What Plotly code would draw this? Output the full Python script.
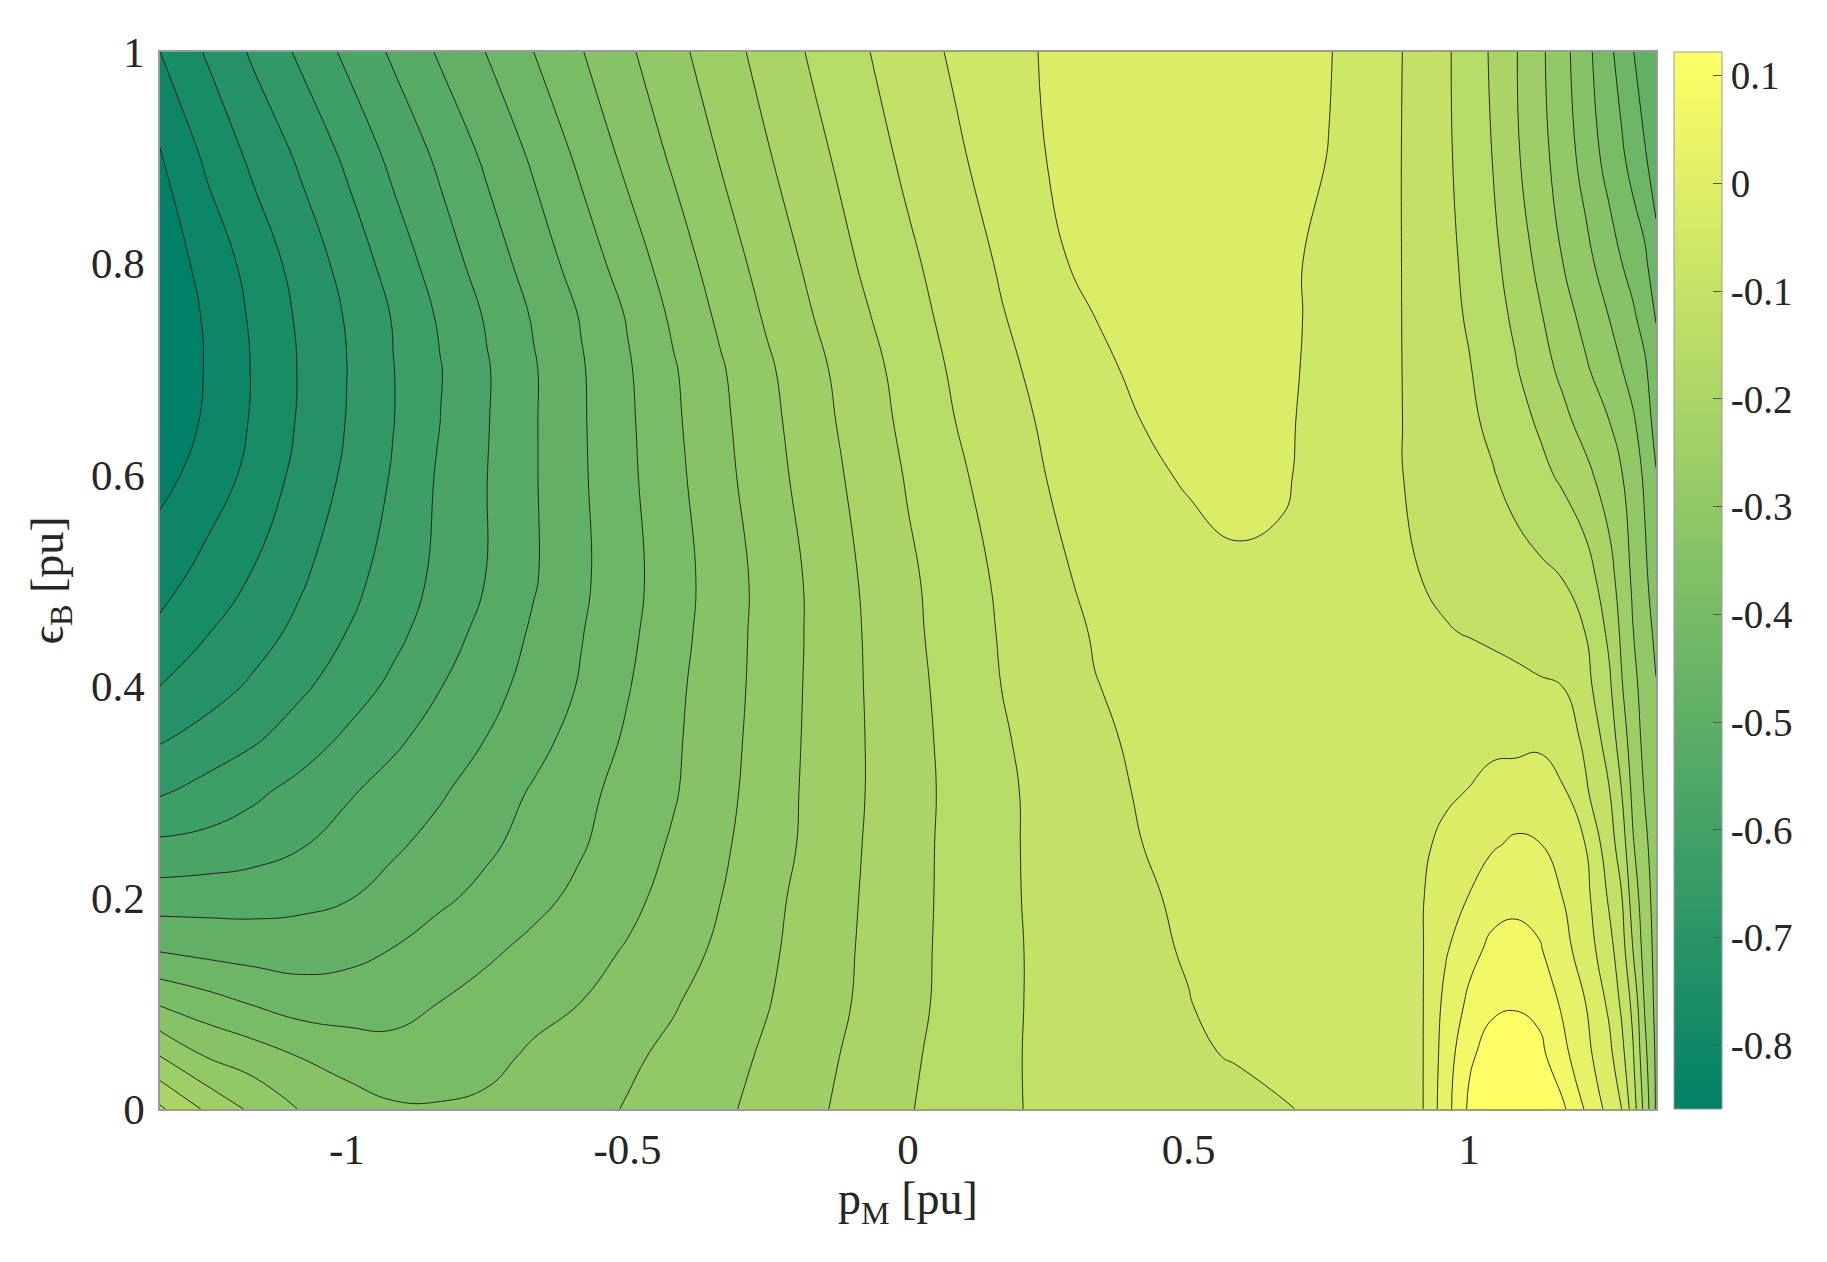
import plotly.graph_objects as go

# --- data -------------------------------------------------------------------
# p_M grid [pu] (x) and eps_B grid [pu] (y)
p_m = [-1.333, -1.25, -1.167, -1.083, -1.0, -0.917, -0.833, -0.75, -0.667,
       -0.583, -0.5, -0.417, -0.333, -0.25, -0.167, -0.083, 0.0, 0.083, 0.167,
       0.25, 0.333, 0.417, 0.5, 0.583, 0.667, 0.75, 0.833, 0.875, 0.917,
       0.958, 1.0, 1.042, 1.083, 1.125, 1.167, 1.208, 1.25, 1.271, 1.292,
       1.313, 1.333]
eps_b = [0.0, 0.05, 0.1, 0.15, 0.2, 0.25, 0.3, 0.35, 0.4, 0.45, 0.5, 0.6,
         0.65, 0.7, 0.75, 0.8, 0.9, 1.0]

# one row of z per eps_B value, columns follow p_m
z_e000 = [-0.183, -0.242, -0.289, -0.326, -0.348, -0.363, -0.364, -0.359, -0.350, -0.338,
          -0.321, -0.304, -0.287, -0.265, -0.242, -0.218, -0.193, -0.171, -0.150, -0.140,
          -0.133, -0.125, -0.118, -0.111, -0.104, -0.092, -0.074, -0.065, -0.058, 0.015,
          0.085, 0.105, 0.122, 0.109, 0.085, 0.028, -0.027, -0.054, -0.123, -0.205, -0.284]
z_e005 = [-0.279, -0.326, -0.346, -0.370, -0.386, -0.397, -0.395, -0.382, -0.361, -0.347,
          -0.331, -0.314, -0.294, -0.273, -0.248, -0.223, -0.197, -0.174, -0.152, -0.137,
          -0.127, -0.116, -0.105, -0.099, -0.088, -0.080, -0.070, -0.063, -0.058, 0.009,
          0.071, 0.096, 0.105, 0.091, 0.046, 0.001, -0.045, -0.085, -0.141, -0.222, -0.286]
z_e010 = [-0.373, -0.395, -0.416, -0.433, -0.435, -0.429, -0.412, -0.397, -0.383, -0.368,
          -0.347, -0.327, -0.304, -0.281, -0.255, -0.229, -0.202, -0.177, -0.153, -0.137,
          -0.123, -0.113, -0.102, -0.088, -0.081, -0.076, -0.070, -0.063, -0.058, 0.000,
          0.042, 0.070, 0.073, 0.064, 0.026, -0.012, -0.065, -0.107, -0.157, -0.239, -0.291]
z_e015 = [-0.460, -0.470, -0.476, -0.478, -0.470, -0.456, -0.437, -0.420, -0.402, -0.384,
          -0.365, -0.341, -0.316, -0.287, -0.258, -0.231, -0.203, -0.178, -0.154, -0.136,
          -0.122, -0.108, -0.098, -0.088, -0.081, -0.076, -0.070, -0.063, -0.058, -0.016,
          0.019, 0.044, 0.049, 0.038, 0.003, -0.033, -0.088, -0.123, -0.190, -0.252, -0.293]
z_e020 = [-0.525, -0.522, -0.520, -0.514, -0.505, -0.485, -0.465, -0.446, -0.425, -0.403,
          -0.380, -0.353, -0.324, -0.292, -0.261, -0.233, -0.205, -0.178, -0.153, -0.135,
          -0.121, -0.106, -0.094, -0.088, -0.083, -0.079, -0.072, -0.065, -0.058, -0.032,
          -0.010, 0.016, 0.022, 0.014, -0.012, -0.044, -0.107, -0.141, -0.211, -0.260, -0.297]
z_e025 = [-0.583, -0.578, -0.567, -0.550, -0.530, -0.509, -0.487, -0.465, -0.442, -0.417,
          -0.391, -0.363, -0.331, -0.299, -0.267, -0.235, -0.206, -0.178, -0.153, -0.134,
          -0.117, -0.101, -0.092, -0.085, -0.081, -0.076, -0.072, -0.068, -0.061, -0.049,
          -0.031, -0.016, -0.005, -0.010, -0.031, -0.057, -0.127, -0.165, -0.231, -0.270, -0.302]
z_e030 = [-0.641, -0.621, -0.600, -0.577, -0.552, -0.530, -0.507, -0.480, -0.453, -0.425,
          -0.398, -0.372, -0.337, -0.302, -0.268, -0.237, -0.207, -0.179, -0.153, -0.133,
          -0.114, -0.097, -0.088, -0.083, -0.081, -0.079, -0.074, -0.072, -0.068, -0.061,
          -0.055, -0.044, -0.037, -0.035, -0.052, -0.095, -0.144, -0.188, -0.245, -0.282, -0.306]
z_e035 = [-0.685, -0.664, -0.642, -0.614, -0.584, -0.555, -0.528, -0.501, -0.472, -0.441,
          -0.407, -0.375, -0.340, -0.305, -0.269, -0.237, -0.206, -0.177, -0.150, -0.128,
          -0.108, -0.094, -0.088, -0.083, -0.081, -0.079, -0.076, -0.074, -0.072, -0.070,
          -0.068, -0.065, -0.067, -0.064, -0.074, -0.111, -0.165, -0.211, -0.257, -0.291, -0.313]
z_e040 = [-0.725, -0.700, -0.674, -0.644, -0.614, -0.582, -0.548, -0.518, -0.486, -0.454,
          -0.416, -0.378, -0.343, -0.307, -0.270, -0.236, -0.204, -0.174, -0.145, -0.124,
          -0.102, -0.092, -0.085, -0.081, -0.079, -0.079, -0.081, -0.082, -0.084, -0.085,
          -0.087, -0.089, -0.092, -0.097, -0.101, -0.132, -0.183, -0.230, -0.267, -0.297, -0.322]
z_e045 = [-0.759, -0.727, -0.699, -0.669, -0.635, -0.603, -0.567, -0.532, -0.496, -0.460,
          -0.423, -0.384, -0.345, -0.308, -0.271, -0.235, -0.201, -0.170, -0.142, -0.118,
          -0.098, -0.088, -0.079, -0.072, -0.071, -0.074, -0.083, -0.088, -0.092, -0.099,
          -0.102, -0.106, -0.111, -0.116, -0.124, -0.146, -0.199, -0.241, -0.278, -0.307, -0.332]
z_e050 = [-0.787, -0.752, -0.721, -0.686, -0.651, -0.616, -0.580, -0.545, -0.506, -0.466,
          -0.428, -0.387, -0.347, -0.308, -0.270, -0.232, -0.198, -0.168, -0.138, -0.105,
          -0.097, -0.083, -0.072, -0.063, -0.063, -0.070, -0.085, -0.092, -0.101, -0.106,
          -0.110, -0.118, -0.127, -0.135, -0.145, -0.168, -0.218, -0.253, -0.286, -0.315, -0.346]
z_e060 = [-0.828, -0.797, -0.756, -0.712, -0.673, -0.632, -0.585, -0.547, -0.506, -0.464,
          -0.423, -0.380, -0.337, -0.297, -0.258, -0.221, -0.186, -0.154, -0.125, -0.100,
          -0.084, -0.064, -0.052, -0.045, -0.052, -0.071, -0.089, -0.099, -0.109, -0.120,
          -0.132, -0.143, -0.160, -0.178, -0.198, -0.224, -0.257, -0.276, -0.304, -0.330, -0.366]
z_e065 = [-0.846, -0.808, -0.765, -0.720, -0.679, -0.637, -0.591, -0.549, -0.506, -0.463,
          -0.421, -0.376, -0.333, -0.292, -0.252, -0.214, -0.179, -0.146, -0.118, -0.094,
          -0.075, -0.056, -0.047, -0.043, -0.051, -0.069, -0.089, -0.099, -0.111, -0.124,
          -0.138, -0.154, -0.174, -0.195, -0.223, -0.251, -0.279, -0.299, -0.318, -0.346, -0.384]
z_e070 = [-0.859, -0.811, -0.767, -0.722, -0.681, -0.637, -0.593, -0.550, -0.506, -0.462,
          -0.418, -0.372, -0.328, -0.286, -0.246, -0.208, -0.173, -0.139, -0.111, -0.087,
          -0.064, -0.049, -0.043, -0.043, -0.049, -0.068, -0.089, -0.099, -0.113, -0.128,
          -0.143, -0.165, -0.187, -0.216, -0.245, -0.274, -0.306, -0.322, -0.341, -0.361, -0.400]
z_e075 = [-0.852, -0.809, -0.763, -0.718, -0.677, -0.633, -0.585, -0.542, -0.498, -0.455,
          -0.410, -0.360, -0.315, -0.273, -0.234, -0.197, -0.163, -0.131, -0.103, -0.080,
          -0.056, -0.045, -0.038, -0.038, -0.047, -0.068, -0.089, -0.099, -0.115, -0.132,
          -0.150, -0.173, -0.198, -0.230, -0.261, -0.293, -0.325, -0.343, -0.362, -0.386, -0.415]
z_e080 = [-0.841, -0.800, -0.753, -0.708, -0.665, -0.617, -0.569, -0.526, -0.482, -0.438,
          -0.392, -0.346, -0.302, -0.261, -0.223, -0.186, -0.154, -0.124, -0.096, -0.064,
          -0.046, -0.040, -0.036, -0.038, -0.047, -0.068, -0.089, -0.099, -0.116, -0.134,
          -0.155, -0.179, -0.210, -0.244, -0.279, -0.311, -0.347, -0.367, -0.385, -0.403, -0.445]
z_e090 = [-0.819, -0.762, -0.716, -0.674, -0.628, -0.580, -0.538, -0.494, -0.451, -0.404,
          -0.358, -0.317, -0.276, -0.238, -0.202, -0.168, -0.136, -0.108, -0.081, -0.055,
          -0.043, -0.036, -0.034, -0.036, -0.043, -0.057, -0.085, -0.099, -0.117, -0.138,
          -0.163, -0.191, -0.228, -0.263, -0.300, -0.341, -0.386, -0.405, -0.429, -0.454, -0.475]
z_e100 = [-0.770, -0.721, -0.674, -0.628, -0.582, -0.540, -0.496, -0.456, -0.413, -0.371,
          -0.331, -0.292, -0.254, -0.218, -0.183, -0.151, -0.121, -0.095, -0.071, -0.052,
          -0.043, -0.036, -0.034, -0.034, -0.038, -0.054, -0.083, -0.098, -0.118, -0.139,
          -0.166, -0.196, -0.232, -0.269, -0.309, -0.355, -0.404, -0.430, -0.456, -0.480, -0.502]

z_grid = [z_e000, z_e005, z_e010, z_e015, z_e020, z_e025, z_e030, z_e035,
          z_e040, z_e045, z_e050, z_e060, z_e065, z_e070, z_e075, z_e080,
          z_e090, z_e100]

x_ticks = [-1, -0.5, 0, 0.5, 1]
x_tick_labels = ["-1", "-0.5", "0", "0.5", "1"]
y_ticks = [0, 0.2, 0.4, 0.6, 0.8, 1]
y_tick_labels = ["0", "0.2", "0.4", "0.6", "0.8", "1"]
cbar_ticks = [-0.8, -0.7, -0.6, -0.5, -0.4, -0.3, -0.2, -0.1, 0, 0.1]
cbar_labels = ["-0.8", "-0.7", "-0.6", "-0.5", "-0.4", "-0.3", "-0.2", "-0.1", "0", "0.1"]

# --- style -------------------------------------------------------------------
SUMMER = [[0.0, "#008066"], [1.0, "#ffff66"]]
Z_MIN, Z_MAX = -0.859, 0.122
LEVEL_START, LEVEL_END, LEVEL_STEP = -0.8144, 0.078, 0.0446
FONT = "Liberation Serif"
TEXT = "#262626"
FRAME = "#9a9a9a"

fig = go.Figure()

fig.add_trace(go.Contour(
    x=p_m, y=eps_b, z=z_grid,
    colorscale=SUMMER,
    contours=dict(start=LEVEL_START, end=LEVEL_END, size=LEVEL_STEP,
                  coloring="fill", showlines=True),
    line=dict(color="rgba(25,25,25,0.9)", width=1, smoothing=1.3),
    showscale=False,
    hoverinfo="skip",
))

# continuous colour bar, as in the original
fig.add_trace(go.Scatter(
    x=[None], y=[None], mode="markers", showlegend=False, hoverinfo="skip",
    marker=dict(
        color=[Z_MIN], colorscale=SUMMER, cmin=Z_MIN, cmax=Z_MAX, showscale=True,
        colorbar=dict(
            x=1.012, xanchor="left", xpad=0, y=0.5, yanchor="middle", ypad=0,
            len=1, lenmode="fraction", thickness=48, thicknessmode="pixels",
            outlinecolor=FRAME, outlinewidth=1,
            ticks="inside", ticklen=9, tickwidth=1, tickcolor="#555555",
            tickvals=cbar_ticks, ticktext=cbar_labels,
            tickfont=dict(family=FONT, size=39, color=TEXT),
        ),
    ),
))

fig.update_layout(
    width=1827, height=1262,
    margin=dict(l=160, r=171, t=52, b=153, pad=0),
    paper_bgcolor="white", plot_bgcolor="white",
    font=dict(family=FONT, color=TEXT, size=43),
    xaxis=dict(
        range=[p_m[0], p_m[-1]], tickvals=x_ticks, ticktext=x_tick_labels,
        showline=True, mirror=True, linecolor=FRAME, linewidth=1.5,
        showgrid=False, zeroline=False, ticks="", ticklabelstandoff=2,
        tickfont=dict(family=FONT, size=43, color=TEXT),
        title=dict(text="p<sub>M</sub> [pu]", standoff=6,
                   font=dict(family=FONT, size=46, color=TEXT)),
    ),
    yaxis=dict(
        range=[0, 1], tickvals=y_ticks, ticktext=y_tick_labels,
        showline=True, mirror=True, linecolor=FRAME, linewidth=1.5,
        showgrid=False, zeroline=False, ticks="", ticklabelstandoff=5,
        tickfont=dict(family=FONT, size=43, color=TEXT),
        title=dict(text="ϵ<sub>B</sub> [pu]", standoff=13,
                   font=dict(family=FONT, size=46, color=TEXT)),
    ),
)

fig.write_html("out.html", config={"displayModeBar": False},
               post_script="document.body.style.margin='0';")
